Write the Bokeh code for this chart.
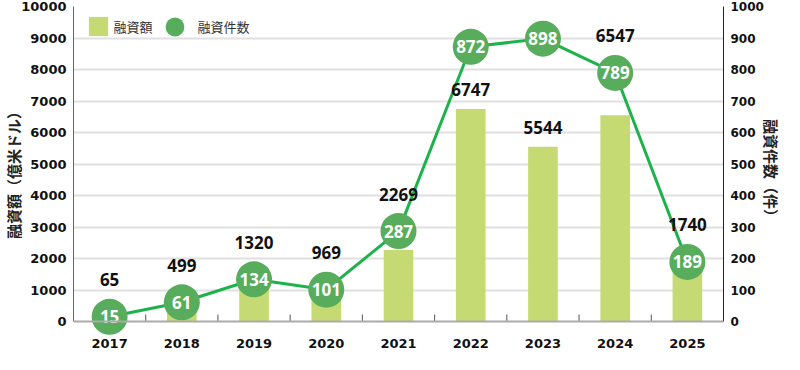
from bokeh.plotting import figure
from bokeh.models import Range1d, LinearAxis, FixedTicker, Legend, LegendItem, ColumnDataSource, Span
from bokeh.core.properties import value
from bokeh.embed import file_html
from bokeh.resources import INLINE

# ---- data ----
years = ["2017", "2018", "2019", "2020", "2021", "2022", "2023", "2024", "2025"]
amounts = [65, 499, 1320, 969, 2269, 6747, 5544, 6547, 1740]      # 融資額（億米ドル）
counts = [15, 61, 134, 101, 287, 872, 898, 789, 189]               # 融資件数（件）
amount_ticks = list(range(0, 10001, 1000))
count_ticks = list(range(0, 1001, 100))

AMT_MAX = amount_ticks[-1]
CNT_MAX = count_ticks[-1]
ratio = AMT_MAX / CNT_MAX

xs = list(range(len(years)))
bounds_x = [i + 0.5 for i in xs[:-1]]
count_scaled = [c * ratio for c in counts]

# bar label placement: above the circle, unless the circle is far above the bar
label_anchor, label_off = [], []
for a, c in zip(amounts, count_scaled):
    if c - a > 1500:
        label_anchor.append(a)
        label_off.append(-19)
    else:
        label_anchor.append(max(a, c))
        label_off.append(-37)

src = ColumnDataSource(dict(
    x=xs, amt=amounts, cnt=counts,
    amt_txt=[str(a) for a in amounts], cnt_txt=[str(c) for c in counts],
    lab_y=label_anchor, lab_off=label_off,
))

BAR = "#c5da72"
DOT = "#58ad5d"
LINE = "#1db24c"
NUM_FONT = "DejaVu Sans"
CJK = "Noto Sans CJK JP"

W, H = 784, 354
BL, BR, BT, BB = 70, 54, 6, 18
fh = H - BT - BB
below_px = 15                                   # room under the baseline for the circles
y_lo = -below_px * AMT_MAX / (fh - below_px)

p = figure(width=W, height=H, output_backend="svg", toolbar_location=None,
           x_range=Range1d(-0.5, len(years) - 0.5), y_range=Range1d(y_lo, AMT_MAX),
           min_border_left=BL, min_border_right=BR, min_border_top=BT, min_border_bottom=BB)
p.outline_line_color = None
p.background_fill_color = "white"
p.extra_y_ranges = {"count": Range1d(y_lo / ratio, CNT_MAX)}

# x axis: labels only (baseline and boundary ticks drawn at y = 0)
p.xaxis.ticker = FixedTicker(ticks=xs)
p.xaxis.major_label_overrides = {i: y for i, y in zip(xs, years)}
p.xaxis.major_tick_line_color = None
p.xaxis.minor_tick_line_color = None
p.xaxis.major_tick_out = 0
p.xaxis.major_tick_in = 0
p.xaxis.axis_line_color = None
p.xaxis.major_label_text_font = NUM_FONT
p.xaxis.major_label_text_font_style = "bold"
p.xaxis.major_label_text_font_size = "13px"
p.xaxis.major_label_text_color = "#111111"
p.xaxis.major_label_standoff = 2

p.yaxis.ticker = FixedTicker(ticks=amount_ticks)
p.yaxis.axis_label = "融資額（億米ドル）"
p.yaxis.bounds = (0, AMT_MAX)
ry = LinearAxis(y_range_name="count", ticker=FixedTicker(ticks=count_ticks),
                axis_label="融資件数（件）", bounds=(0, CNT_MAX))
p.add_layout(ry, "right")

for ax, col, fs in ((p.yaxis[0], "#666666", "13px"), (ry, "#222222", "12px")):
    ax.axis_line_color = col
    ax.major_tick_line_color = None
    ax.minor_tick_line_color = None
    ax.major_tick_out = 0
    ax.major_tick_in = 0
    ax.major_label_text_font = NUM_FONT
    ax.major_label_text_font_style = "bold"
    ax.major_label_text_font_size = fs
    ax.major_label_text_color = "#111111"
    ax.major_label_standoff = 7
    ax.axis_label_text_font = CJK
    ax.axis_label_text_font_style = "bold"
    ax.axis_label_text_font_size = "15px"
    ax.axis_label_text_color = "#222222"
    ax.axis_label_standoff = -6

p.xgrid.grid_line_color = None
p.ygrid.ticker = FixedTicker(ticks=amount_ticks[1:])
p.ygrid.grid_line_color = "#e0e0e0"
p.ygrid.grid_line_width = 2

# baseline and category-boundary ticks
p.add_layout(Span(location=0, dimension="width", line_color="#aaaaaa", line_width=2))
p.ray(x=bounds_x, y=[0] * len(bounds_x), length=7, length_units="screen",
      angle=90, angle_units="deg", line_color="#555555", line_width=1)

# marks
bars = p.vbar(x="x", top="amt", width=0.41, source=src, fill_color=BAR, line_color=None)
p.line(x="x", y="cnt", source=src, y_range_name="count", line_color=LINE, line_width=3)
dots = p.scatter(x="x", y="cnt", source=src, y_range_name="count", size=36,
                 fill_color=DOT, line_color=None)
p.text(x="x", y="cnt", text="cnt_txt", source=src, y_range_name="count",
       text_color="white", text_font=value("Noto Sans"), text_font_style="bold",
       text_font_size="17px", text_align="center", text_baseline="middle")
p.text(x="x", y="lab_y", y_offset="lab_off", text="amt_txt", source=src,
       text_color="#111111", text_font=value("Noto Sans"), text_font_style="bold",
       text_font_size="17px", text_align="center", text_baseline="middle")

# legends (positions in screen px from the frame's bottom-left)
cy = fh - 20
leg1 = Legend(items=[LegendItem(label="融資額", renderers=[bars])],
              location=(12.5, cy - 12), orientation="horizontal",
              glyph_width=24, glyph_height=24, label_standoff=4, padding=0, margin=0,
              border_line_color=None, background_fill_alpha=0,
              label_text_font=CJK, label_text_font_size="13px", label_text_color="#333333")
leg2 = Legend(items=[LegendItem(label="融資件数", renderers=[dots])],
              location=(101 - 23.5, cy - 23.5), orientation="horizontal",
              glyph_width=47, glyph_height=47, label_standoff=0, padding=0, margin=0,
              border_line_color=None, background_fill_alpha=0,
              label_text_font=CJK, label_text_font_size="13px", label_text_color="#333333")
p.add_layout(leg1)
p.add_layout(leg2)

open("out.html", "w").write(file_html(p, INLINE))
